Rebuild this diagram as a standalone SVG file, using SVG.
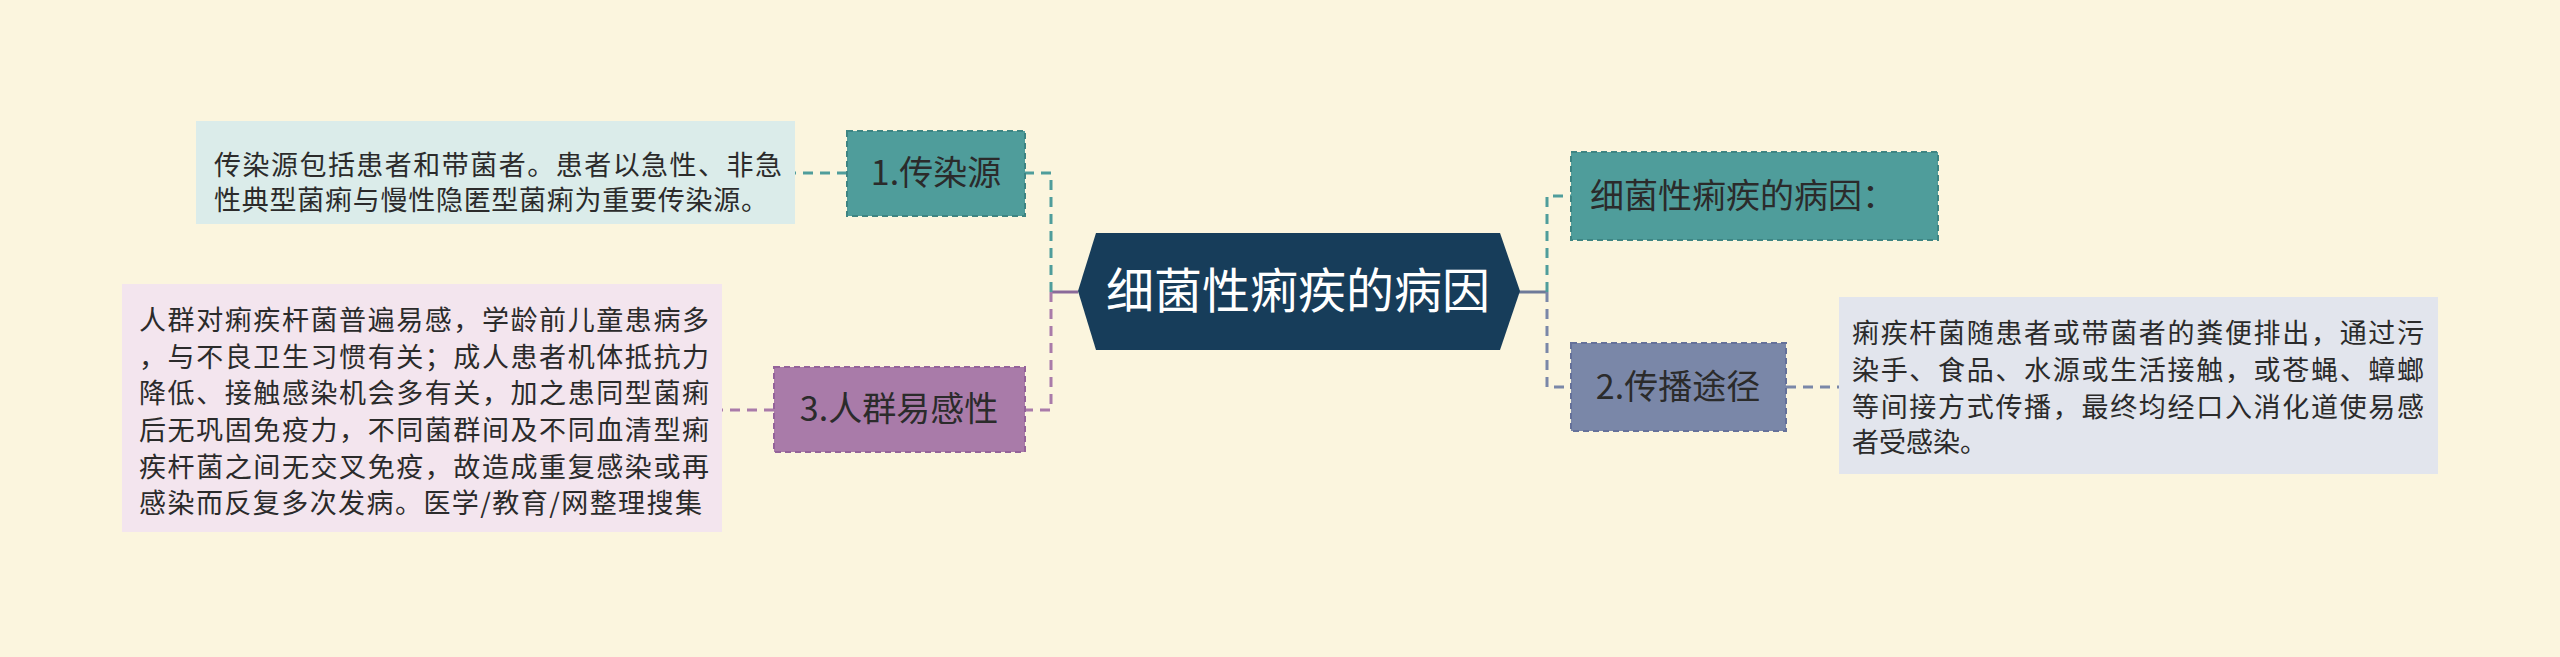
<svg xmlns="http://www.w3.org/2000/svg" width="2560" height="657" viewBox="0 0 2560 657">
<style>
text{font-family:"Noto Sans CJK SC","Noto Sans",sans-serif}
.n{font-size:34px;fill:#2b2b2b;text-anchor:middle}
.d{font-size:27px;fill:#2b2b2b}
.c{fill:none;stroke-width:3;stroke-dasharray:10 7}
</style>
<rect width="2560" height="657" fill="#fbf5de"/>
<g id="connectors">
<line x1="1078" y1="292" x2="1051" y2="292" stroke="#8a6a9a" stroke-width="3"/>
<path class="c" stroke="#4f9d9b" d="M1051 292 V173 H1025"/>
<path class="c" stroke="#a97ba9" d="M1051 292 V410 H1025"/>
<path class="c" stroke="#4f9d9b" d="M847 173 H795"/>
<path class="c" stroke="#a97ba9" d="M774 410 H722"/>
<line x1="1519" y1="292" x2="1547" y2="292" stroke="#6e7a99" stroke-width="3"/>
<path class="c" stroke="#4f9d9b" d="M1547 292 V196 H1571"/>
<path class="c" stroke="#7a87a8" d="M1547 292 V387 H1571"/>
<path class="c" stroke="#7a87a8" d="M1786 387 H1839"/>
</g>
<g id="center">
<polygon points="1078,291 1096,233 1500,233 1520,291 1500,350 1096,350" fill="#173d5a"/>
<text x="1298" y="308" font-size="48" fill="#fff" text-anchor="middle">细菌性痢疾的病因</text>
</g>
<g id="n1">
<rect x="847" y="131" width="178" height="85" fill="#4f9d9b" stroke="#3e8583" stroke-width="2" stroke-dasharray="6 4"/>
<text class="n" x="936" y="185">1.传染源</text>
</g>
<g id="d1">
<rect x="196" y="121" width="599" height="103" fill="#dbecea"/>
<text class="d" x="214" y="175" textLength="568">传染源包括患者和带菌者。患者以急性、非急</text>
<text class="d" x="214" y="210" textLength="554">性典型菌痢与慢性隐匿型菌痢为重要传染源。</text>
</g>
<g id="n3">
<rect x="774" y="367" width="251" height="85" fill="#a97ba9" stroke="#94639a" stroke-width="2" stroke-dasharray="6 4"/>
<text class="n" x="899" y="421">3.人群易感性</text>
</g>
<g id="d3">
<rect x="122" y="284" width="600" height="248" fill="#f3e5ee"/>
<text class="d" x="139" y="330" textLength="570">人群对痢疾杆菌普遍易感，学龄前儿童患病多</text>
<text class="d" x="139" y="367" textLength="570">，与不良卫生习惯有关；成人患者机体抵抗力</text>
<text class="d" x="139" y="403" textLength="570">降低、接触感染机会多有关，加之患同型菌痢</text>
<text class="d" x="139" y="440" textLength="570">后无巩固免疫力，不同菌群间及不同血清型痢</text>
<text class="d" x="139" y="477" textLength="570">疾杆菌之间无交叉免疫，故造成重复感染或再</text>
<text class="d" x="139" y="513" textLength="563">感染而反复多次发病。医学/教育/网整理搜集</text>
</g>
<g id="n0">
<rect x="1571" y="152" width="367" height="88" fill="#4f9d9b" stroke="#3e8583" stroke-width="2" stroke-dasharray="6 4"/>
<text class="n" x="1590" y="208" style="text-anchor:start">细菌性痢疾的病因：</text>
</g>
<g id="n2">
<rect x="1571" y="343" width="215" height="88" fill="#7a87a8" stroke="#65719a" stroke-width="2" stroke-dasharray="6 4"/>
<text class="n" x="1678" y="399">2.传播途径</text>
</g>
<g id="d2">
<rect x="1839" y="297" width="599" height="177" fill="#e2e5ed"/>
<text class="d" x="1852" y="343" textLength="572">痢疾杆菌随患者或带菌者的粪便排出，通过污</text>
<text class="d" x="1852" y="380" textLength="572">染手、食品、水源或生活接触，或苍蝇、蟑螂</text>
<text class="d" x="1852" y="417" textLength="572">等间接方式传播，最终均经口入消化道使易感</text>
<text class="d" x="1852" y="452">者受感染。</text>
</g>
</svg>
